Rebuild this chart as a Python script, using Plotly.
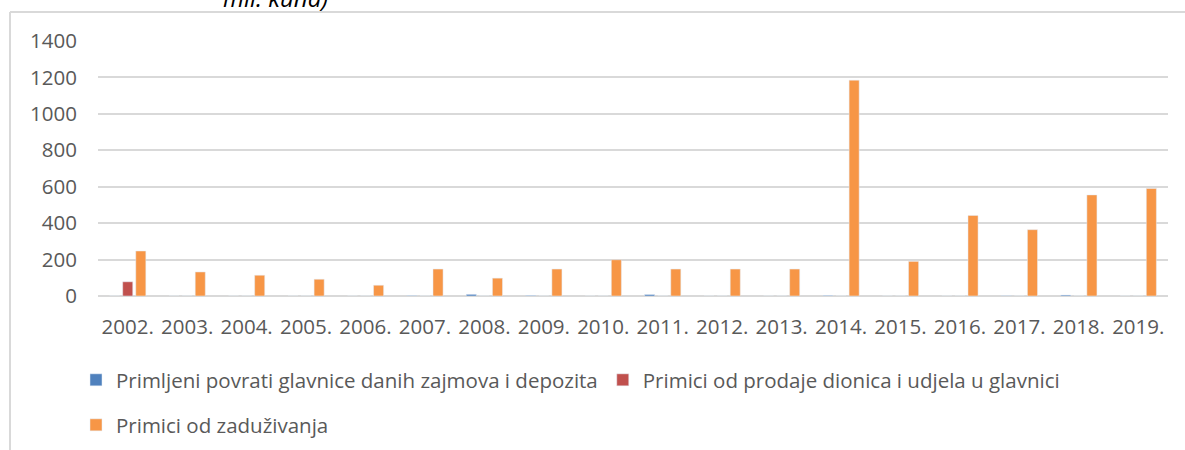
import plotly.graph_objects as go

years = ["2002.", "2003.", "2004.", "2005.", "2006.", "2007.", "2008.", "2009.", "2010.",
         "2011.", "2012.", "2013.", "2014.", "2015.", "2016.", "2017.", "2018.", "2019."]
povrati = [0, 0, 0, 0, 0, 2, 9, 3, 0, 8, 0, 0, 3, 0, 0, 1, 5, 0]
dionice = [78, 0, 0, 0, 0, 0, 0, 0, 0, 0, 0, 0, 0, 0, 0, 0, 0, 0]
zaduzivanje = [247, 132, 114, 92, 59, 148, 98, 148, 199, 148, 148, 148, 1185, 190, 442, 364, 555, 590]

names = ["Primljeni povrati glavnice danih zajmova i depozita",
         "Primici od prodaje dionica i udjela u glavnici",
         "Primici od zaduživanja"]
colors = ["#4F81BD", "#C0504D", "#F79646"]

W, H = 1185, 450
L, R, T, B = 98, 17, 41, 154
pw, ph = W - L - R, H - T - B

def px(x):
    return (x - L) / pw

def py(y):
    return (H - B - y) / ph

def cx(x):
    return x / W

def cy(y):
    return 1 - y / H

FONT = "Open Sans"
GRAY = "#595959"

fig = go.Figure()
fig.add_trace(go.Bar(x=years, y=povrati, name=names[0], marker_color=colors[0], legend="legend"))
fig.add_trace(go.Bar(x=years, y=dionice, name=names[1], marker_color=colors[1], legend="legend"))
fig.add_trace(go.Bar(x=years, y=zaduzivanje, name=names[2], marker_color=colors[2], legend="legend2"))

fig.update_layout(
    width=W, height=H, autosize=False,
    margin=dict(l=L, r=R, t=T, b=B, autoexpand=False),
    paper_bgcolor="white", plot_bgcolor="white",
    barmode="group", bargap=0.34, bargroupgap=0.23,
    font=dict(family=FONT, size=20, color=GRAY),
    legend=dict(orientation="h", xref="container", yref="container", x=cx(76), y=cy(380),
                xanchor="left", yanchor="middle",
                font=dict(family=FONT, size=20.5, color=GRAY), bgcolor="rgba(0,0,0,0)"),
    legend2=dict(orientation="h", xref="container", yref="container", x=cx(76), y=cy(425),
                 xanchor="left", yanchor="middle",
                 font=dict(family=FONT, size=20.5, color=GRAY), bgcolor="rgba(0,0,0,0)"),
    xaxis=dict(showgrid=False, showline=False, ticks="", tickfont=dict(size=20.5, color=GRAY),
               ticklabelstandoff=16),
    yaxis=dict(range=[0, 1400], dtick=200, showgrid=True, gridcolor="#D9D9D9", gridwidth=1.5,
               zeroline=True, zerolinecolor="#D9D9D9", zerolinewidth=1.5, showline=False,
               ticks="", tickfont=dict(size=20.5, color=GRAY), ticklabelstandoff=20),
    annotations=[dict(text="mil. kuna)", x=px(275), y=py(-2), xref="paper", yref="paper",
                      xanchor="center", yanchor="middle", showarrow=False,
                      font=dict(family=FONT, size=24, color="#000000", style="italic"))],
    shapes=[
        dict(type="line", xref="paper", yref="paper", x0=px(10), x1=px(10), y0=py(12), y1=py(452),
             line=dict(color="#D9D9D9", width=2)),
        dict(type="line", xref="paper", yref="paper", x0=px(10), x1=px(1190), y0=py(12), y1=py(12),
             line=dict(color="#D9D9D9", width=2)),
    ],
)

fig.write_html("out.html", config={"displayModeBar": False},
               post_script="document.body.style.margin='0';document.body.style.overflow='hidden';")
